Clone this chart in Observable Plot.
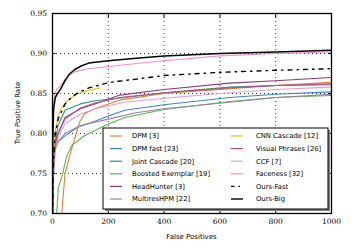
<!DOCTYPE html>
<html><head><meta charset="utf-8">
<script src="https://cdn.jsdelivr.net/npm/d3@7"></script>
<script src="https://cdn.jsdelivr.net/npm/@observablehq/plot@0.6"></script>
<style>body{margin:0;background:#fff}</style>
</head><body><div id="chart"></div>
<script>
const xTicks = [0, 200, 400, 600, 800, 1000];
const yTicks = [0.70, 0.75, 0.80, 0.85, 0.90, 0.95];

const names = ["DPM [3]", "DPM fast [23]", "Joint Cascade [20]", "Boosted Exemplar [19]", "HeadHunter [3]", "MultiresHPM [22]",
  "CNN Cascade [12]", "Visual Phrases [26]", "CCF [7]", "Faceness [32]", "Ours-Fast", "Ours-Big"];
const colors = ["#f47a30", "#3a86c8", "#1f9e7e", "#5cb84a", "#8e3b6e", "#9a80a8",
  "#e8c421", "#b5508a", "#e0a2c8", "#f58cc8", "#000000", "#000000"];
const dashes = [null, null, null, null, null, null, null, null, null, null, "4,5,1.5,5", null];
const widths = [1.1, 1.1, 1.1, 1.1, 1.1, 1.1, 1.1, 1.1, 1.1, 1.1, 1.4, 1.5];

const fpDPM   = [30, 33, 45, 57, 69, 85, 98, 116, 150, 242, 400, 635, 800, 1000];
const tprDPM  = [0.69, 0.70, 0.75, 0.766, 0.781, 0.80, 0.815, 0.825, 0.831, 0.842, 0.850, 0.856, 0.860, 0.864];
const fpDPMf  = [0, 3, 8, 20, 45, 92, 150, 200, 259, 400, 635, 800, 1000];
const tprDPMf = [0.70, 0.75, 0.78, 0.79, 0.797, 0.808, 0.815, 0.822, 0.829, 0.836, 0.845, 0.849, 0.852];
const fpJC    = [0, 5, 10, 20, 45, 100, 152, 259, 400, 635, 800, 1000];
const tprJC   = [0.70, 0.77, 0.79, 0.81, 0.829, 0.837, 0.841, 0.845, 0.851, 0.858, 0.860, 0.861];
const fpBE    = [15, 21, 33, 51, 69, 116, 188, 259, 400, 635, 800, 1000];
const tprBE   = [0.70, 0.733, 0.745, 0.772, 0.785, 0.7975, 0.81, 0.82, 0.83, 0.84, 0.845, 0.8475];
const fpHH    = [0, 3, 10, 20, 45, 100, 152, 242, 400, 635, 800, 1000];
const tprHH   = [0.70, 0.76, 0.79, 0.80, 0.82, 0.831, 0.837, 0.848, 0.855, 0.863, 0.866, 0.870];
const fpMH    = [0, 5, 10, 20, 45, 100, 200, 300, 400, 635, 800, 1000];
const tprMH   = [0.70, 0.76, 0.78, 0.79, 0.80, 0.81, 0.818, 0.826, 0.831, 0.839, 0.845, 0.849];
const fpCNN   = [0, 3, 8, 20, 30, 50, 87, 120, 170];
const tprCNN  = [0.70, 0.77, 0.80, 0.822, 0.831, 0.840, 0.849, 0.853, 0.857];
const fpVP    = [0, 5, 10, 20, 45, 100, 152, 242, 400, 635, 800, 1000];
const tprVP   = [0.70, 0.77, 0.785, 0.80, 0.818, 0.832, 0.838, 0.845, 0.851, 0.857, 0.860, 0.862];
const fpCCF   = [0, 5, 10, 20, 45, 100, 152, 259, 400, 635, 800, 1000];
const tprCCF  = [0.70, 0.76, 0.78, 0.795, 0.8125, 0.824, 0.831, 0.839, 0.844, 0.851, 0.855, 0.858];
const fpFN    = [0, 1, 3, 8, 15, 27, 45, 57, 80, 128, 212, 259, 400, 600, 800, 1000];
const tprFN   = [0.70, 0.80, 0.835, 0.85, 0.855, 0.859, 0.868, 0.872, 0.877, 0.881, 0.884, 0.886, 0.891, 0.897, 0.900, 0.902];
const fpOF    = [0, 3, 8, 20, 45, 70, 92, 130, 206, 300, 400, 600, 800, 1000];
const tprOF   = [0.70, 0.76, 0.795, 0.818, 0.837, 0.846, 0.851, 0.857, 0.864, 0.868, 0.8725, 0.8765, 0.879, 0.881];
const fpOB    = [0, 1, 4, 10, 20, 30, 45, 60, 80, 100, 130, 200, 300, 400, 600, 800, 1000];
const tprOB   = [0.70, 0.79, 0.83, 0.845, 0.851, 0.856, 0.866, 0.874, 0.880, 0.884, 0.888, 0.891, 0.894, 0.897, 0.900, 0.902, 0.904];

const fps  = [fpDPM, fpDPMf, fpJC, fpBE, fpHH, fpMH, fpCNN, fpVP, fpCCF, fpFN, fpOF, fpOB];
const tprs = [tprDPM, tprDPMf, tprJC, tprBE, tprHH, tprMH, tprCNN, tprVP, tprCCF, tprFN, tprOF, tprOB];

const drawOrder = [0, 1, 2, 3, 5, 8, 4, 7, 6, 9, 10, 11];
const lineMarks = drawOrder.map(i => {
  const data = fps[i].map((x, k) => ({fp: x, tpr: tprs[i][k]}));
  return Plot.line(data, {x: "fp", y: "tpr", stroke: colors[i], strokeWidth: widths[i],
    strokeDasharray: dashes[i] || undefined, clip: true});
});

const chart = Plot.plot({
  width: 352, height: 251,
  marginLeft: 52, marginRight: 21, marginTop: 13, marginBottom: 38,
  style: {fontFamily: "DejaVu Serif", fontSize: "7.5px", background: "white", color: "black"},
  x: {domain: [0, 1000]},
  y: {domain: [0.70, 0.95]},
  marks: [
    Plot.gridX([200, 400, 600, 800], {stroke: "black", strokeOpacity: 1, strokeWidth: 0.8, strokeDasharray: "1,3"}),
    Plot.gridY([0.75, 0.80, 0.85, 0.90], {stroke: "black", strokeOpacity: 1, strokeWidth: 0.8, strokeDasharray: "1,3"}),
    ...lineMarks,
    Plot.axisX(xTicks, {anchor: "bottom", tickSize: -3.5, tickPadding: 9, label: null, tickFormat: d => String(d), fontFamily: "DejaVu Serif"}),
    Plot.axisX(xTicks, {anchor: "top", tickSize: -3.5, label: null, tickFormat: () => ""}),
    Plot.axisY(yTicks, {anchor: "left", tickSize: -3.5, tickPadding: 9, label: null, tickFormat: d3.format(".2f"), fontFamily: "DejaVu Serif"}),
    Plot.axisY(yTicks, {anchor: "right", tickSize: -3.5, label: null, tickFormat: () => ""}),
    Plot.frame({stroke: "black", strokeWidth: 1.3})
  ]
});
document.getElementById("chart").appendChild(chart);

const svg = d3.select(chart);
svg.append("text").attr("x", 191.5).attr("y", 239).attr("text-anchor", "middle")
  .attr("font-family", "DejaVu Sans").attr("font-size", "7px").text("False Positives");
svg.append("text").attr("transform", "translate(20,113) rotate(-90)").attr("text-anchor", "middle")
  .attr("font-family", "DejaVu Sans").attr("font-size", "7px").text("True Positive Rate");

// legend
const lg = svg.append("g").attr("text-anchor", "start");
const bx = 103, by = 128, bw = 225, bh = 81;
lg.append("rect").attr("x", bx + 2).attr("y", by + 2).attr("width", bw).attr("height", bh).attr("fill", "#7f7f7f");
lg.append("rect").attr("x", bx).attr("y", by).attr("width", bw).attr("height", bh).attr("fill", "white").attr("stroke", "black").attr("stroke-width", 1);
names.forEach((n, i) => {
  const col = i < 6 ? 0 : 1;
  const row = i % 6;
  const y = 136 + row * 12.6;
  const lx = col === 0 ? 110 : 231;
  const tx = col === 0 ? 132 : 256;
  lg.append("line").attr("x1", lx).attr("x2", lx + 12).attr("y1", y).attr("y2", y)
    .attr("stroke", colors[i]).attr("stroke-width", i >= 10 ? 1.4 : 1.2)
    .attr("stroke-dasharray", dashes[i] ? "3.5,4,1.5,4" : null);
  lg.append("text").attr("x", tx).attr("y", y).attr("dy", "0.35em").attr("text-anchor", "start")
    .attr("font-family", "DejaVu Sans").attr("font-size", "6.8px").text(n);
});
</script></body></html>
